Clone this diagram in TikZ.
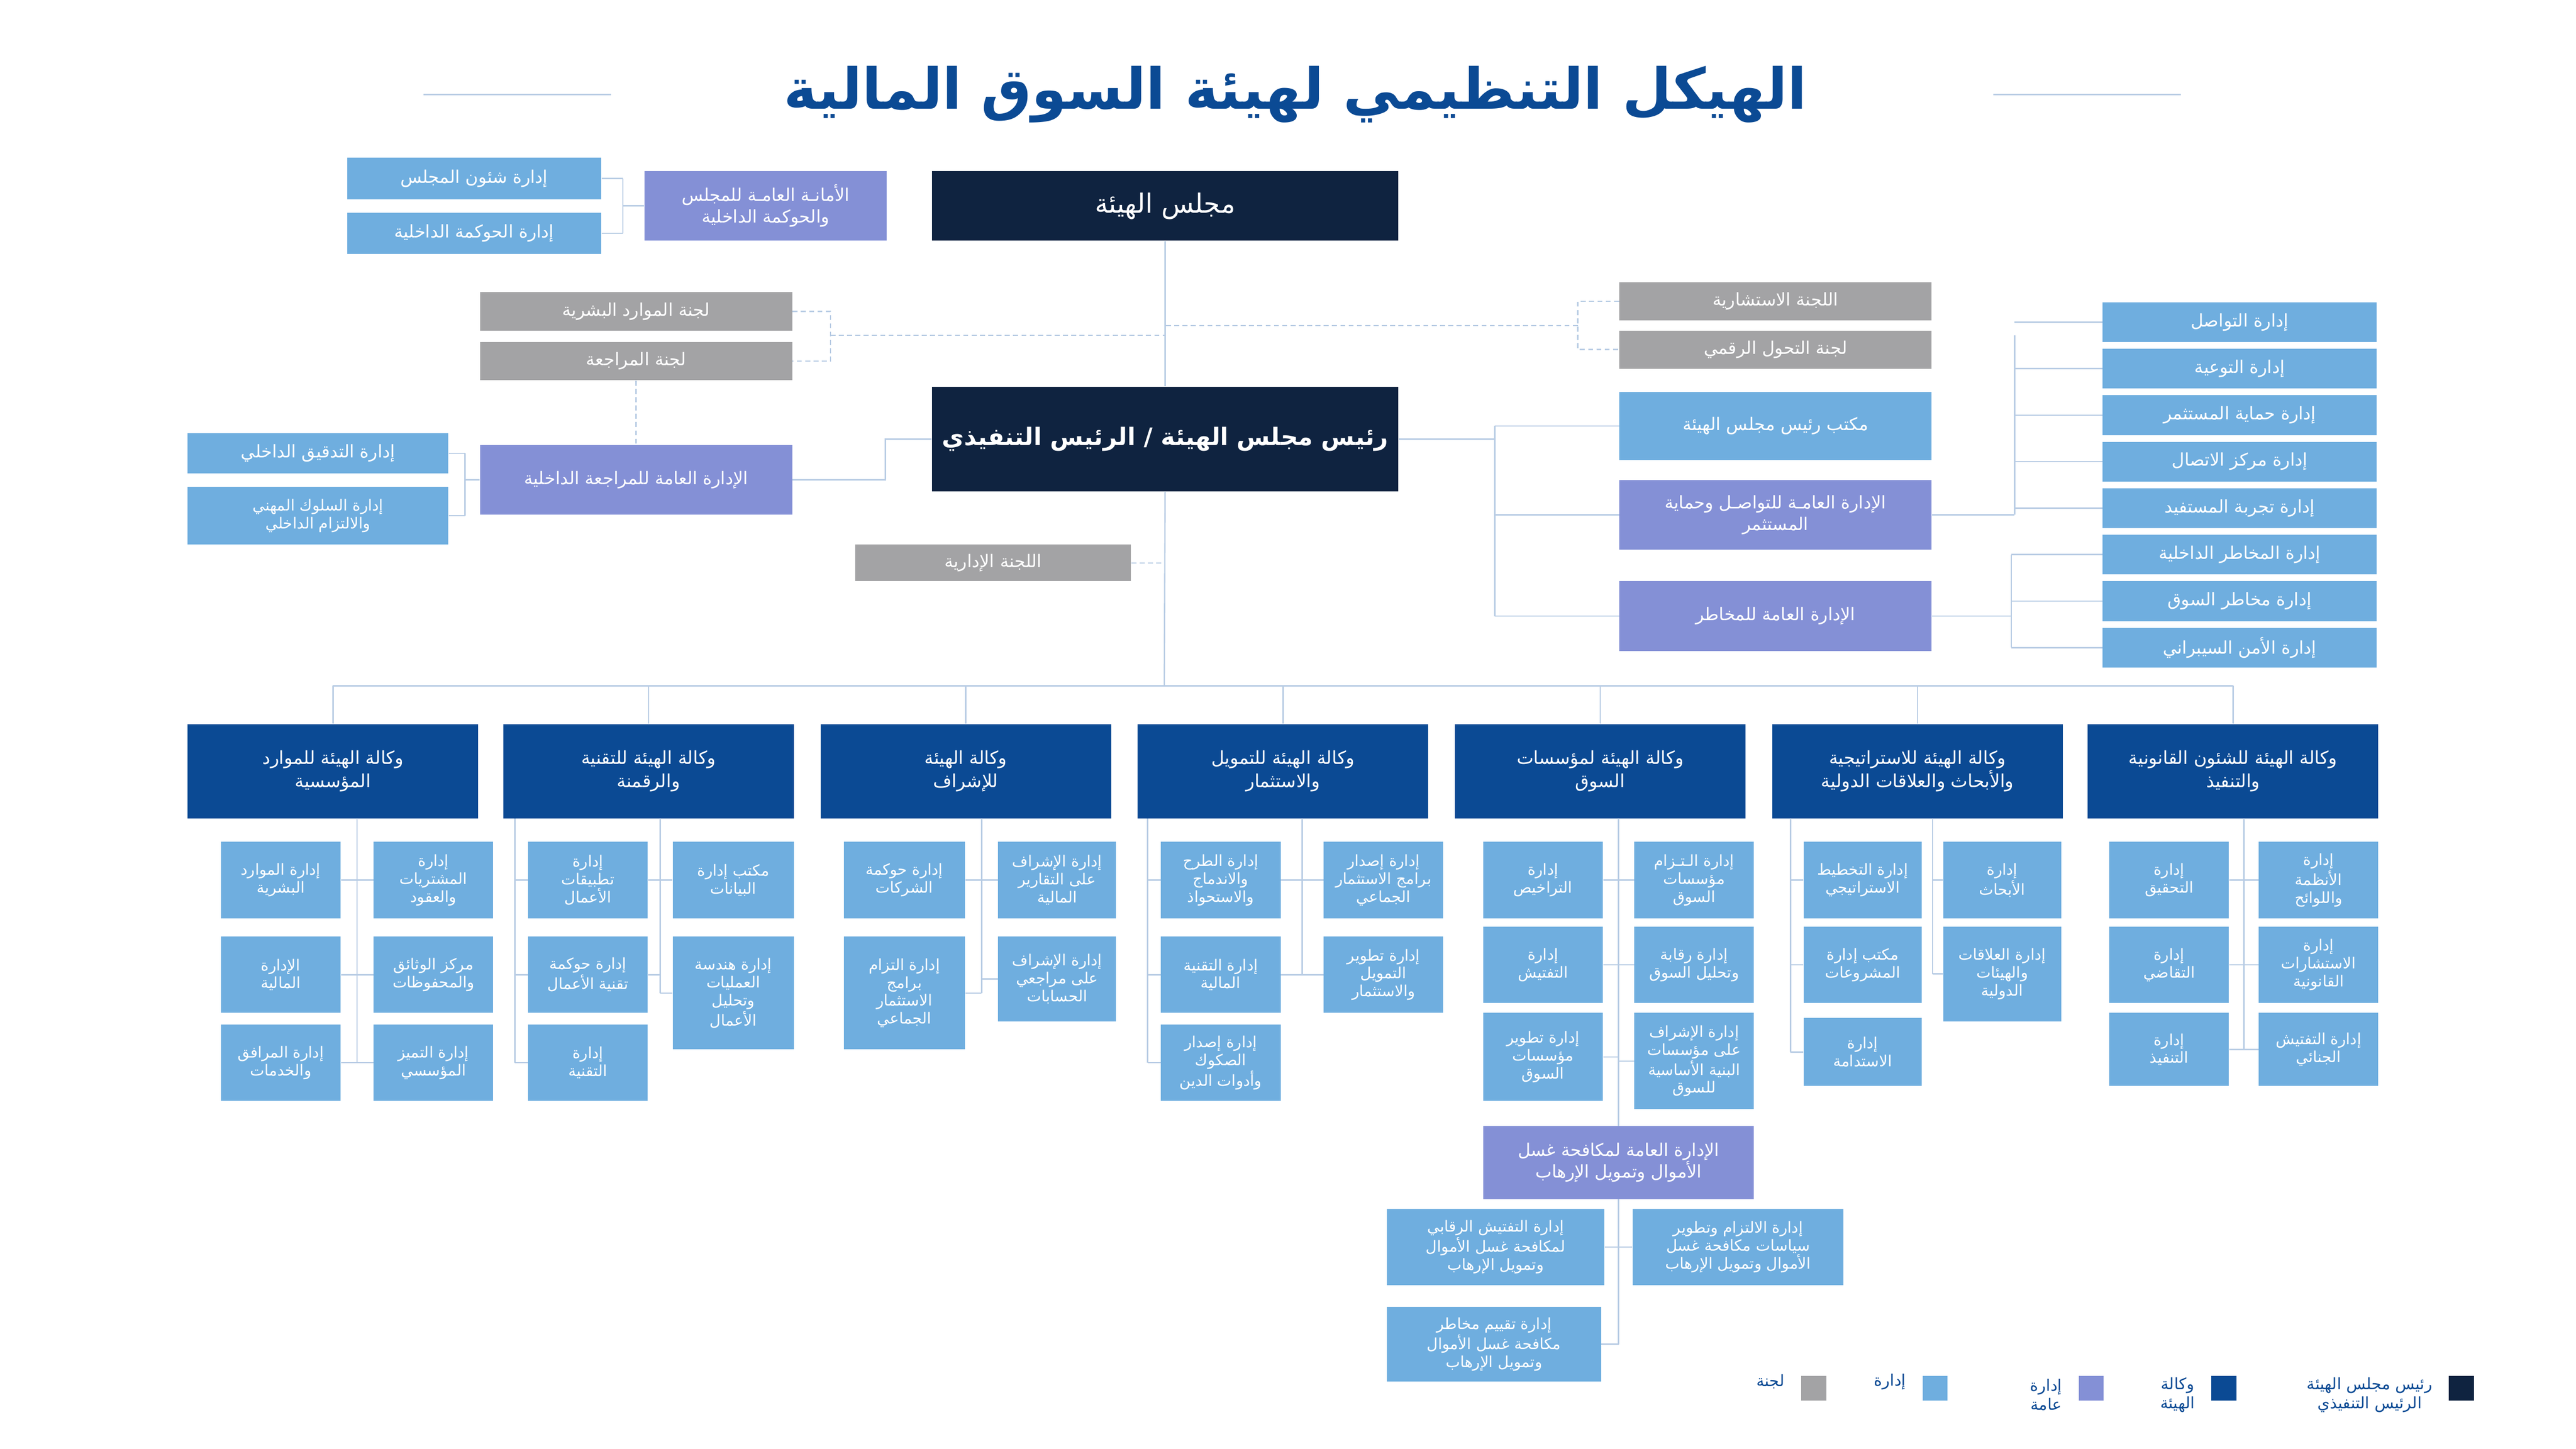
\documentclass[tikz,border=0pt]{standalone}
\usepackage{fontspec}
\setmainfont{DejaVu Sans}[Script=Arabic]
\TeXXeTstate=1
\newcommand\rl[1]{\beginR #1\endR}
\definecolor{navy}{HTML}{0F2340}
\definecolor{agc}{HTML}{0B4A94}
\definecolor{gdc}{HTML}{8490D6}
\definecolor{dic}{HTML}{6FAEDF}
\definecolor{coc}{HTML}{A3A3A5}
\definecolor{lnc}{HTML}{B8CCE4}
\definecolor{ttl}{HTML}{0B4A94}
\tikzset{
 b/.style={rectangle,inner sep=0pt,align=center,text=white},
 board/.style={b,fill=navy,font=\fontsize{16}{19}\selectfont},
 chair/.style={b,fill=navy,font=\fontsize{14.5}{17}\selectfont\bfseries},
 gd/.style={b,fill=gdc,font=\fontsize{10.5}{13}\selectfont},
 di/.style={b,fill=dic,font=\fontsize{10.5}{13}\selectfont},
 sd/.style={b,fill=dic,font=\fontsize{9.2}{10.8}\selectfont},
 co/.style={b,fill=coc,font=\fontsize{10.5}{13}\selectfont},
 ag/.style={b,fill=agc,font=\fontsize{10.8}{14}\selectfont},
 ln/.style={draw=lnc,line width=0.8pt},
 dl/.style={ln,dash pattern=on 3pt off 2pt},
 lg/.style={text=agc,align=center,font=\fontsize{9.5}{11.5}\selectfont}
}
\newcommand\bx[7]{\node[#6,minimum width={(#4-#2)*1pt},minimum height={(#5-#3)*1pt}] (#1) at ({(#2+#4)/2},{(#3+#5)/2}) {#7};}
\begin{document}
\begin{tikzpicture}[x=1pt,y=-1pt]
\useasboundingbox[fill=white] (0,0) rectangle (1551,872.4);
% title
\node[text=ttl,font=\fontsize{34}{40}\selectfont\bfseries] (title) at (780,57) {\rl{الهيكل التنظيمي لهيئة السوق المالية}};
\coordinate (tl1) at (255,57); \coordinate (tl2) at (368,57);
\coordinate (tr1) at (1200,57); \coordinate (tr2) at (1313,57);
\draw[ln] (tl1)--(tl2); \draw[ln] (tr1)--(tr2);
% top
\bx{board}{561}{103}{842}{145}{board}{\rl{مجلس الهيئة}}
\bx{sec}{388}{103}{534}{145}{gd}{\rl{الأمانـة العامـة للمجلس}\\\rl{والحوكمة الداخلية}}
\bx{bca}{209}{95}{362}{120}{di}{\rl{إدارة شئون المجلس}}
\bx{igv}{209}{128}{362}{153}{di}{\rl{إدارة الحوكمة الداخلية}}
\bx{hr}{289}{176}{477}{199}{co}{\rl{لجنة الموارد البشرية}}
\bx{aud}{289}{206}{477}{229}{co}{\rl{لجنة المراجعة}}
\bx{adv}{975}{170}{1163}{193}{co}{\rl{اللجنة الاستشارية}}
\bx{dig}{975}{199}{1163}{222}{co}{\rl{لجنة التحول الرقمي}}
\bx{chair}{561}{233}{842}{296}{chair}{\rl{رئيس مجلس الهيئة / الرئيس التنفيذي}}
\bx{off}{975}{236}{1163}{277}{di}{\rl{مكتب رئيس مجلس الهيئة}}
\bx{prot}{975}{289}{1163}{331}{gd}{\rl{الإدارة العامـة للتواصـل وحماية}\\\rl{المستثمر}}
\bx{risk}{975}{350}{1163}{392}{gd}{\rl{الإدارة العامة للمخاطر}}
\bx{r1}{1266}{182}{1431}{206}{di}{\rl{إدارة التواصل}}
\bx{r2}{1266}{210}{1431}{234}{di}{\rl{إدارة التوعية}}
\bx{r3}{1266}{238}{1431}{262}{di}{\rl{إدارة حماية المستثمر}}
\bx{r4}{1266}{266}{1431}{290}{di}{\rl{إدارة مركز الاتصال}}
\bx{r5}{1266}{294}{1431}{318}{di}{\rl{إدارة تجربة المستفيد}}
\bx{r6}{1266}{322}{1431}{346}{di}{\rl{إدارة المخاطر الداخلية}}
\bx{r7}{1266}{350}{1431}{374}{di}{\rl{إدارة مخاطر السوق}}
\bx{r8}{1266}{378}{1431}{402}{di}{\rl{إدارة الأمن السيبراني}}
\bx{iagd}{289}{268}{477}{310}{gd}{\rl{الإدارة العامة للمراجعة الداخلية}}
\bx{ida}{113}{261}{270}{285}{di}{\rl{إدارة التدقيق الداخلي}}
\bx{isc}{113}{293}{270}{328}{sd}{\rl{إدارة السلوك المهني}\\\rl{والالتزام الداخلي}}
\bx{adm}{515}{328}{681}{350}{co}{\rl{اللجنة الإدارية}}
% top connectors
\coordinate (bus) at (701,413);
\draw[ln] (board.south)--(chair.north);
\draw[ln] (chair.south)--(bus);
\draw[ln] (sec.west)--(375,124); \draw[ln] (375,107.5)--(375,140.5);
\draw[ln] (375,107.5)--(bca.east); \draw[ln] (375,140.5)--(igv.east);
\draw[dl] (hr.east)--(500,187.5)--(500,217.5)--(aud.east);
\draw[dl] (500,202)--(701,202);
\draw[dl] (adv.west)--(950,181.5)--(950,210.5)--(dig.west);
\draw[dl] (950,196)--(701,196);
\draw[dl] (aud.south)--(iagd.north);
\draw[dl] (adm.east)--(701,339);
\draw[ln] (iagd.east)--(533,289)--(533,264.5)--(chair.west);
\draw[ln] (iagd.west)--(280,289); \draw[ln] (280,273)--(280,310.5);
\draw[ln] (280,273)--(ida.east); \draw[ln] (280,310.5)--(isc.east);
\draw[ln] (chair.east)--(900,264.5);
\draw[ln] (900,256.5)--(900,371); \draw[ln] (900,256.5)--(off.west);
\draw[ln] (900,310)--(prot.west); \draw[ln] (900,371)--(risk.west);
\draw[ln] (prot.east)--(1213,310); \draw[ln] (1213,202)--(1213,310);
\foreach \r in {r1,r2,r3,r4,r5} \draw[ln] (\r.west)--(\r.west -| 1213,0);
\draw[ln] (risk.east)--(1211,371); \draw[ln] (1211,334)--(1211,390);
\foreach \r in {r6,r7,r8} \draw[ln] (\r.west)--(\r.west -| 1211,0);
% agencies
\bx{a1}{113}{436}{288}{493}{ag}{\rl{وكالة الهيئة للموارد}\\\rl{المؤسسية}}
\bx{a2}{303}{436}{478}{493}{ag}{\rl{وكالة الهيئة للتقنية}\\\rl{والرقمنة}}
\bx{a3}{494}{436}{669}{493}{ag}{\rl{وكالة الهيئة}\\\rl{للإشراف}}
\bx{a4}{685}{436}{860}{493}{ag}{\rl{وكالة الهيئة للتمويل}\\\rl{والاستثمار}}
\bx{a5}{876}{436}{1051}{493}{ag}{\rl{وكالة الهيئة لمؤسسات}\\\rl{السوق}}
\bx{a6}{1067}{436}{1242}{493}{ag}{\rl{وكالة الهيئة للاستراتيجية}\\\rl{والأبحاث والعلاقات الدولية}}
\bx{a7}{1257}{436}{1432}{493}{ag}{\rl{وكالة الهيئة للشئون القانونية}\\\rl{والتنفيذ}}
\draw[ln] (a1.north |- bus)--(a7.north |- bus);
\foreach \a in {a1,a2,a3,a4,a5,a6,a7} \draw[ln] (\a.north |- bus)--(\a.north);
% a7
\bx{a7r1}{1360}{507}{1432}{553}{sd}{\rl{إدارة}\\\rl{الأنظمة}\\\rl{واللوائح}}
\bx{a7r2}{1360}{558}{1432}{604}{sd}{\rl{إدارة}\\\rl{الاستشارات}\\\rl{القانونية}}
\bx{a7r3}{1360}{610}{1432}{654}{sd}{\rl{إدارة التفتيش}\\\rl{الجنائي}}
\bx{a7l1}{1270}{507}{1342}{553}{sd}{\rl{إدارة}\\\rl{التحقيق}}
\bx{a7l2}{1270}{558}{1342}{604}{sd}{\rl{إدارة}\\\rl{التقاضي}}
\bx{a7l3}{1270}{610}{1342}{654}{sd}{\rl{إدارة}\\\rl{التنفيذ}}
% a6
\bx{a6r1}{1170}{507}{1241}{553}{sd}{\rl{إدارة}\\\rl{الأبحاث}}
\bx{a6r2}{1170}{558}{1241}{615}{sd}{\rl{إدارة العلاقات}\\\rl{والهيئات}\\\rl{الدولية}}
\bx{a6l1}{1086}{507}{1157}{553}{sd}{\rl{إدارة التخطيط}\\\rl{الاستراتيجي}}
\bx{a6l2}{1086}{558}{1157}{604}{sd}{\rl{مكتب إدارة}\\\rl{المشروعات}}
\bx{a6l3}{1086}{613}{1157}{654}{sd}{\rl{إدارة}\\\rl{الاستدامة}}
% a5
\bx{a5r1}{984}{507}{1056}{553}{sd}{\rl{إدارة الـتـزام}\\\rl{مؤسسات}\\\rl{السوق}}
\bx{a5r2}{984}{558}{1056}{604}{sd}{\rl{إدارة رقابة}\\\rl{وتحليل السوق}}
\bx{a5r3}{984}{610}{1056}{668}{sd}{\rl{إدارة الإشراف}\\\rl{على مؤسسات}\\\rl{البنية الأساسية}\\\rl{للسوق}}
\bx{a5l1}{893}{507}{965}{553}{sd}{\rl{إدارة}\\\rl{التراخيص}}
\bx{a5l2}{893}{558}{965}{604}{sd}{\rl{إدارة}\\\rl{التفتيش}}
\bx{a5l3}{893}{610}{965}{663}{sd}{\rl{إدارة تطوير}\\\rl{مؤسسات}\\\rl{السوق}}
\bx{aml}{893}{678}{1056}{722}{gd}{\rl{الإدارة العامة لمكافحة غسل}\\\rl{الأموال وتمويل الإرهاب}}
\bx{amlc}{983}{728}{1110}{774}{sd}{\rl{إدارة الالتزام وتطوير}\\\rl{سياسات مكافحة غسل}\\\rl{الأموال وتمويل الإرهاب}}
\bx{amli}{835}{728}{966}{774}{sd}{\rl{إدارة التفتيش الرقابي}\\\rl{لمكافحة غسل الأموال}\\\rl{وتمويل الإرهاب}}
\bx{amlr}{835}{787}{964}{832}{sd}{\rl{إدارة تقييم مخاطر}\\\rl{مكافحة غسل الأموال}\\\rl{وتمويل الإرهاب}}
% a4
\bx{a4r1}{797}{507}{869}{553}{sd}{\rl{إدارة إصدار}\\\rl{برامج الاستثمار}\\\rl{الجماعي}}
\bx{a4r2}{797}{564}{869}{610}{sd}{\rl{إدارة تطوير}\\\rl{التمويل}\\\rl{والاستثمار}}
\bx{a4l1}{699}{507}{771}{553}{sd}{\rl{إدارة الطرح}\\\rl{والاندماج}\\\rl{والاستحواذ}}
\bx{a4l2}{699}{564}{771}{610}{sd}{\rl{إدارة التقنية}\\\rl{المالية}}
\bx{a4l3}{699}{617}{771}{663}{sd}{\rl{إدارة إصدار}\\\rl{الصكوك}\\\rl{وأدوات الدين}}
% a3
\bx{a3r1}{601}{507}{672}{553}{sd}{\rl{إدارة الإشراف}\\\rl{على التقارير}\\\rl{المالية}}
\bx{a3r2}{601}{564}{672}{615}{sd}{\rl{إدارة الإشراف}\\\rl{على مراجعي}\\\rl{الحسابات}}
\bx{a3l1}{508}{507}{581}{553}{sd}{\rl{إدارة حوكمة}\\\rl{الشركات}}
\bx{a3l2}{508}{564}{581}{632}{sd}{\rl{إدارة التزام}\\\rl{برامج}\\\rl{الاستثمار}\\\rl{الجماعي}}
% a2
\bx{a2r1}{405}{507}{478}{553}{sd}{\rl{مكتب إدارة}\\\rl{البيانات}}
\bx{a2r2}{405}{564}{478}{632}{sd}{\rl{إدارة هندسة}\\\rl{العمليات}\\\rl{وتحليل}\\\rl{الأعمال}}
\bx{a2l1}{318}{507}{390}{553}{sd}{\rl{إدارة}\\\rl{تطبيقات}\\\rl{الأعمال}}
\bx{a2l2}{318}{564}{390}{610}{sd}{\rl{إدارة حوكمة}\\\rl{تقنية الأعمال}}
\bx{a2l3}{318}{617}{390}{663}{sd}{\rl{إدارة}\\\rl{التقنية}}
% a1
\bx{a1r1}{225}{507}{297}{553}{sd}{\rl{إدارة}\\\rl{المشتريات}\\\rl{والعقود}}
\bx{a1r2}{225}{564}{297}{610}{sd}{\rl{مركز الوثائق}\\\rl{والمحفوظات}}
\bx{a1r3}{225}{617}{297}{663}{sd}{\rl{إدارة التميز}\\\rl{المؤسسي}}
\bx{a1l1}{133}{507}{205}{553}{sd}{\rl{إدارة الموارد}\\\rl{البشرية}}
\bx{a1l2}{133}{564}{205}{610}{sd}{\rl{الإدارة}\\\rl{المالية}}
\bx{a1l3}{133}{617}{205}{663}{sd}{\rl{إدارة المرافق}\\\rl{والخدمات}}
% sub connectors
\newcommand\gap[4]{%
 \draw[ln] (#1.south -| #2,0)--(#2,#3);
 \foreach \bb/\ss in {#4} \draw[ln] (\bb.\ss)--(\bb.\ss -| #2,0);}
\gap{a7}{1351}{632}{a7r1/west,a7r2/west,a7r3/west,a7l1/east,a7l2/east,a7l3/east}
\gap{a6}{1163.5}{586.5}{a6r1/west,a6r2/west}
\gap{a6}{1078}{633.5}{a6l1/west,a6l2/west,a6l3/west}
\gap{a5}{974.5}{678}{a5r1/west,a5r2/west,a5r3/west,a5l1/east,a5l2/east,a5l3/east}
\gap{a4}{784}{587}{a4r1/west,a4r2/west,a4l1/east,a4l2/east}
\draw[ln] (691,493)--(691,640);
\foreach \bb in {a4l1,a4l2,a4l3} \draw[ln] (\bb.west)--(\bb.west -| 691,0);
\gap{a3}{591}{598}{a3r1/west,a3r2/west,a3l1/east,a3l2/east}
\gap{a2}{397.5}{598}{a2r1/west,a2r2/west,a2l1/east,a2l2/east}
\draw[ln] (310,493)--(310,640);
\foreach \bb in {a2l1,a2l2,a2l3} \draw[ln] (\bb.west)--(\bb.west -| 310,0);
\gap{a1}{215}{640}{a1r1/west,a1r2/west,a1r3/west,a1l1/east,a1l2/east,a1l3/east}
\draw[ln] (aml.south)--(974.5,809.5);
\draw[ln] (974.5,751)--(amlc.west); \draw[ln] (974.5,751)--(amli.east);
\draw[ln] (974.5,809.5)--(amlr.east);
% legend
\node[fill=navy,minimum size=15pt,inner sep=0] (k1) at (1482,836) {};
\node[lg,anchor=east] (t1) at (1468,840) {\rl{رئيس مجلس الهيئة}\\\rl{الرئيس التنفيذي}};
\node[fill=agc,minimum size=15pt,inner sep=0] (k2) at (1339,836) {};
\node[lg,anchor=east] (t2) at (1325,840) {\rl{وكالة}\\\rl{الهيئة}};
\node[fill=gdc,minimum size=15pt,inner sep=0] (k3) at (1259,836) {};
\node[lg,anchor=east] (t3) at (1245,840) {\rl{إدارة}\\\rl{عامة}};
\node[fill=dic,minimum size=15pt,inner sep=0] (k4) at (1165,836) {};
\node[lg,anchor=east] (t4) at (1151,832) {\rl{إدارة}};
\node[fill=coc,minimum size=15pt,inner sep=0] (k5) at (1092,836) {};
\node[lg,anchor=east] (t5) at (1078,832) {\rl{لجنة}};
\end{tikzpicture}
\end{document}
